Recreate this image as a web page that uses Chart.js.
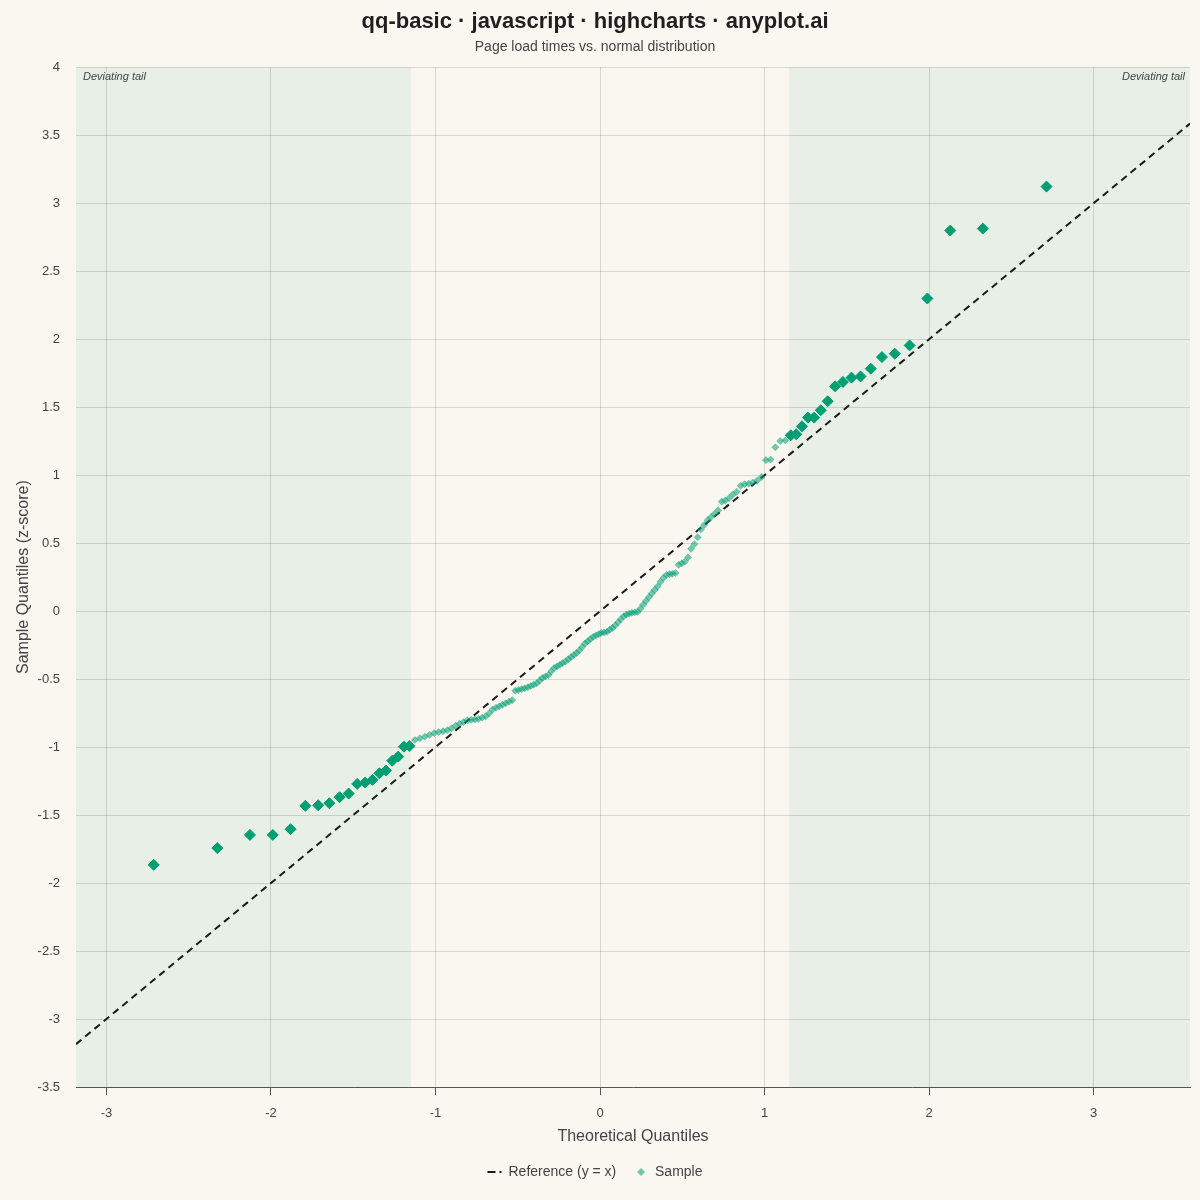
<!DOCTYPE html>
<html>
<head>
<meta charset="utf-8">
<title>qq-basic</title>
<script src="https://cdn.jsdelivr.net/npm/chart.js@4.4.1/dist/chart.umd.min.js"></script>
<style>
html,body{margin:0;padding:0;background:#faf7f1;}
#wrap{width:1200px;height:1200px;}
</style>
</head>
<body>
<div id="wrap"><canvas id="chart" width="1200" height="1200"></canvas></div>
<script>

/* DATA */

// theoretical normal quantiles, one per sorted sample
let theoretical = [
-2.713,-2.326,-2.128,-1.989,-1.881,-1.791,-1.713,-1.645,-1.583,-1.528,
-1.476,-1.428,-1.383,-1.341,-1.301,-1.263,-1.227,-1.192,-1.159,-1.126,
-1.095,-1.065,-1.036,-1.008,-0.981,-0.954,-0.928,-0.903,-0.878,-0.854,
-0.830,-0.806,-0.783,-0.761,-0.739,-0.717,-0.695,-0.674,-0.654,-0.633,
-0.613,-0.593,-0.573,-0.553,-0.534,-0.515,-0.496,-0.477,-0.459,-0.440,
-0.422,-0.404,-0.385,-0.367,-0.350,-0.332,-0.314,-0.297,-0.279,-0.262,
-0.245,-0.228,-0.210,-0.193,-0.176,-0.159,-0.143,-0.126,-0.109,-0.092,
-0.075,-0.059,-0.042,-0.025,-0.008,
0.008,0.025,0.042,0.059,0.075,0.092,0.109,0.126,0.143,0.159,
0.176,0.193,0.210,0.228,0.245,0.262,0.279,0.297,0.314,0.332,
0.350,0.367,0.385,0.404,0.422,0.440,0.459,0.477,0.496,0.515,
0.534,0.553,0.573,0.593,0.613,0.633,0.654,0.674,0.695,0.717,
0.739,0.761,0.783,0.806,0.830,0.854,0.878,0.903,0.928,0.954,
0.981,1.008,1.036,1.065,1.095,1.126,1.159,1.192,1.227,1.263,
1.301,1.341,1.383,1.428,1.476,1.528,1.583,1.645,1.713,1.791,
1.881,1.989,2.128,2.326,2.713
];

// sorted page load times as z-scores
let sample = [
-1.866,-1.743,-1.646,-1.646,-1.604,-1.432,-1.428,-1.413,-1.369,-1.342,
-1.271,-1.261,-1.241,-1.193,-1.173,-1.100,-1.070,-0.997,-0.992,-0.948,
-0.935,-0.924,-0.910,-0.897,-0.890,-0.883,-0.876,-0.862,-0.843,-0.828,
-0.816,-0.804,-0.800,-0.797,-0.792,-0.784,-0.774,-0.752,-0.724,-0.711,
-0.700,-0.688,-0.677,-0.666,-0.655,-0.585,-0.580,-0.574,-0.568,-0.560,
-0.551,-0.541,-0.531,-0.510,-0.491,-0.481,-0.470,-0.443,-0.418,-0.407,
-0.395,-0.383,-0.370,-0.353,-0.338,-0.323,-0.308,-0.289,-0.264,-0.238,
-0.222,-0.206,-0.190,-0.179,-0.169,
-0.160,-0.157,-0.152,-0.137,-0.124,-0.106,-0.082,-0.060,-0.038,-0.026,
-0.019,-0.012,-0.009,-0.006,0.018,0.047,0.075,0.103,0.130,0.156,
0.182,0.216,0.245,0.266,0.272,0.275,0.280,0.340,0.351,0.363,
0.395,0.458,0.492,0.543,0.600,0.634,0.669,0.692,0.714,0.741,
0.805,0.813,0.830,0.856,0.877,0.922,0.933,0.937,0.945,0.959,
0.985,1.110,1.114,1.205,1.251,1.256,1.293,1.300,1.359,1.423,
1.423,1.477,1.543,1.653,1.685,1.717,1.726,1.783,1.868,1.893,
1.954,2.299,2.799,2.813,3.122
];

let tailBounds = [-1.15, 1.15];
let xRange = [-3.185, 3.585];
let yRange = [-3.5, 4];
let refEnds = [xRange[0], xRange[1]];


/* SPLIT INTO TAIL / BODY */

let bodyPoints = [];
let tailPoints = [];

theoretical.forEach((x,i)=>{
let p = {x:x, y:sample[i]};
if(x < tailBounds[0] || x > tailBounds[1]){
tailPoints.push(p);
}else{
bodyPoints.push(p);
}
});

let bodyColor = "rgba(0,158,115,0.55)";
let tailColor = "#009e73";


/* LEGEND DIAMOND (small, not stretched) */

let diamond = document.createElement("canvas");
diamond.width = 10;
diamond.height = 10;
let dctx = diamond.getContext("2d");
dctx.fillStyle = bodyColor;
dctx.beginPath();
dctx.moveTo(5,1);
dctx.lineTo(9,5);
dctx.lineTo(5,9);
dctx.lineTo(1,5);
dctx.closePath();
dctx.fill();


/* BACKGROUND + TAIL BANDS */

let bandPlugin = {
id:"bands",
beforeDraw(chart){
let ctx = chart.ctx;
let area = chart.chartArea;
let xs = chart.scales.x;

ctx.save();
ctx.fillStyle = "#faf7f1";
ctx.fillRect(0,0,chart.width,chart.height);

let leftEdge = xs.getPixelForValue(tailBounds[0]);
let rightEdge = xs.getPixelForValue(tailBounds[1]);

ctx.fillStyle = "rgba(0,140,90,0.07)";
ctx.fillRect(area.left, area.top, leftEdge-area.left, area.bottom-area.top);
ctx.fillRect(rightEdge, area.top, area.right-rightEdge, area.bottom-area.top);

ctx.font = "italic 11px 'Liberation Sans', Arial, sans-serif";
ctx.fillStyle = "#444";
ctx.textBaseline = "top";
ctx.textAlign = "left";
ctx.fillText("Deviating tail", area.left+7, area.top+4);
ctx.textAlign = "right";
ctx.fillText("Deviating tail", area.right-5, area.top+4);
ctx.restore();
}
};


/* CHART */

let font = "'Liberation Sans', Arial, sans-serif";

new Chart(document.getElementById("chart"),{

type:"scatter",

data:{
datasets:[
{
label:"Sample tail",
data:tailPoints,
pointStyle:"rectRot",
pointRadius:5.5,
pointBackgroundColor:tailColor,
pointBorderColor:tailColor,
pointBorderWidth:1
},
{
label:"Sample",
data:bodyPoints,
pointStyle:"rectRot",
pointRadius:3.6,
backgroundColor:bodyColor,
borderColor:bodyColor,
pointBorderWidth:0.5
},
{
type:"line",
label:"Reference (y = x)",
data:[{x:refEnds[0],y:refEnds[0]},{x:refEnds[1],y:refEnds[1]}],
borderColor:"#1a1a1a",
backgroundColor:"#1a1a1a",
borderWidth:2,
borderDash:[7,5],
pointRadius:0,
pointStyle:"line",
fill:false
}
]
},

options:{
responsive:false,
animation:false,
devicePixelRatio:1,
layout:{padding:{left:0,right:10,top:0,bottom:11}},
plugins:{
title:{
display:true,
text:"qq-basic · javascript · highcharts · anyplot.ai",
color:"#1f1f1f",
font:{family:font,size:22,weight:"bold"},
padding:{top:9,bottom:2}
},
subtitle:{
display:true,
text:"Page load times vs. normal distribution",
color:"#444",
font:{family:font,size:14},
padding:{top:1,bottom:12}
},
legend:{
position:"bottom",
labels:{
usePointStyle:true,
pointStyleWidth:14,
boxHeight:6,
padding:10,
color:"#444",
font:{family:font,size:14},
filter:(item)=>item.text !== "Sample tail",
sort:(a,b)=>b.datasetIndex - a.datasetIndex,
generateLabels(chart){
let items = Chart.defaults.plugins.legend.labels.generateLabels(chart);
items.forEach((item)=>{
if(item.text === "Reference (y = x)"){
item.lineDash = [8,4];
item.lineWidth = 2;
item.strokeStyle = "#1a1a1a";
item.text = "Reference (y = x)  ";
}
if(item.text === "Sample"){
item.pointStyle = diamond;
}
});
return items;
}
}
},
tooltip:{enabled:false}
},
scales:{
x:{
type:"linear",
min:xRange[0],
max:xRange[1],
afterFit(scale){ scale.height = 68; },
ticks:{
stepSize:1,
includeBounds:false,
padding:11,
color:"#444",
font:{family:font,size:13}
},
grid:{
color:"rgba(0,0,0,0.13)",
tickColor:"#555",
tickLength:8
},
border:{display:true,color:"#555",width:1},
title:{
display:true,
text:"Theoretical Quantiles",
color:"#444",
font:{family:font,size:16},
padding:{top:0,bottom:9}
}
},
y:{
type:"linear",
min:yRange[0],
max:yRange[1],
afterFit(scale){ scale.width = 76; },
ticks:{
stepSize:0.5,
includeBounds:false,
padding:16,
color:"#444",
font:{family:font,size:13},
callback:(v)=>String(v)
},
grid:{
color:"rgba(0,0,0,0.13)",
drawTicks:false
},
border:{display:false},
title:{
display:true,
text:"Sample Quantiles (z-score)",
color:"#444",
font:{family:font,size:16},
padding:{top:14,bottom:0}
}
}
}
},

plugins:[bandPlugin]

});

</script>
</body>
</html>
